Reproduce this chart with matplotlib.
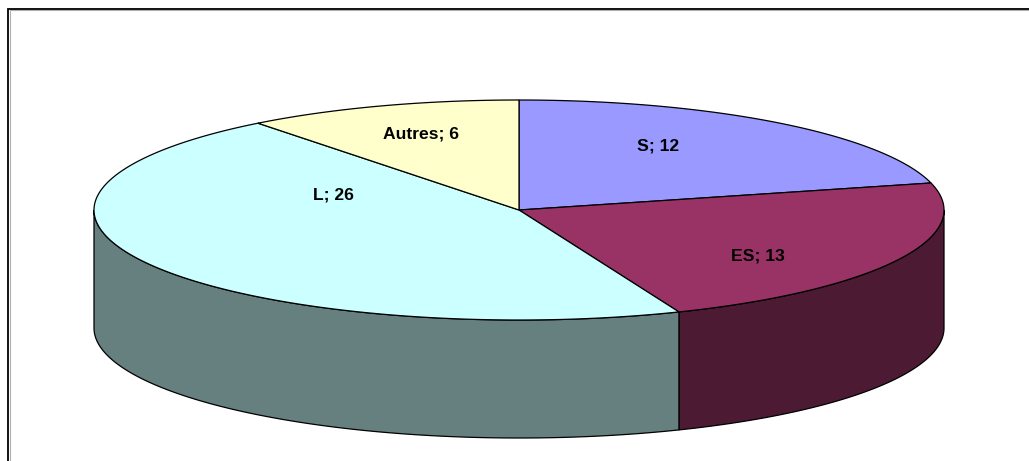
import matplotlib
matplotlib.use("Agg")
import matplotlib.pyplot as plt
import numpy as np
from matplotlib.patches import Polygon

labels = ["S", "ES", "L", "Autres"]
values = [12, 13, 26, 6]
top_colors = ["#9999ff", "#993366", "#ccffff", "#ffffcc"]
side_colors = ["#5c5c99", "#4d1a33", "#667f7f", "#7f7f66"]
label_pos = [(658.5, 146), (758, 256), (333, 195), (421, 133.5)]

cx, cy = 519, 210
rx, ry = 425, 110
depth = 118


def rim(t0, t1):
    t = np.linspace(t0, t1, 200)
    return np.column_stack([cx + rx * np.sin(t), cy - ry * np.cos(t)])


fig = plt.figure(figsize=(10.29, 4.61), dpi=100)
ax = fig.add_axes([0, 0, 1, 1])
ax.set_xlim(0, 1029)
ax.set_ylim(461, 0)
ax.axis("off")

# chart frame, only left and top are inside the crop
ax.plot([9.5, 9.5, 1029], [461, 10.5, 10.5], color="#b0b0b0", lw=0.8, zorder=0)
ax.plot([8, 8, 1029], [461, 9, 9], color="black", lw=1.3, zorder=0, solid_joinstyle="miter")

edges = 2 * np.pi * np.cumsum([0] + values) / sum(values)

# side walls first, only the part facing the viewer
for i in range(len(values)):
    t0 = max(edges[i], np.pi / 2)
    t1 = min(edges[i + 1], 3 * np.pi / 2)
    if t0 >= t1:
        continue
    arc = rim(t0, t1)
    wall = np.vstack([arc, (arc + [0, depth])[::-1]])
    ax.add_patch(Polygon(wall, fc=side_colors[i], ec="black", lw=0.9, zorder=1))

for i in range(len(values)):
    arc = rim(edges[i], edges[i + 1])
    ax.add_patch(Polygon(np.vstack([[cx, cy], arc]), fc=top_colors[i], ec="black", lw=0.9, zorder=2))
    ax.text(*label_pos[i], "{}; {}".format(labels[i], values[i]), ha="center", va="center",
            fontsize=12.6, fontweight="bold", family="Liberation Sans", zorder=3)

fig.savefig("out.png", dpi=100)
